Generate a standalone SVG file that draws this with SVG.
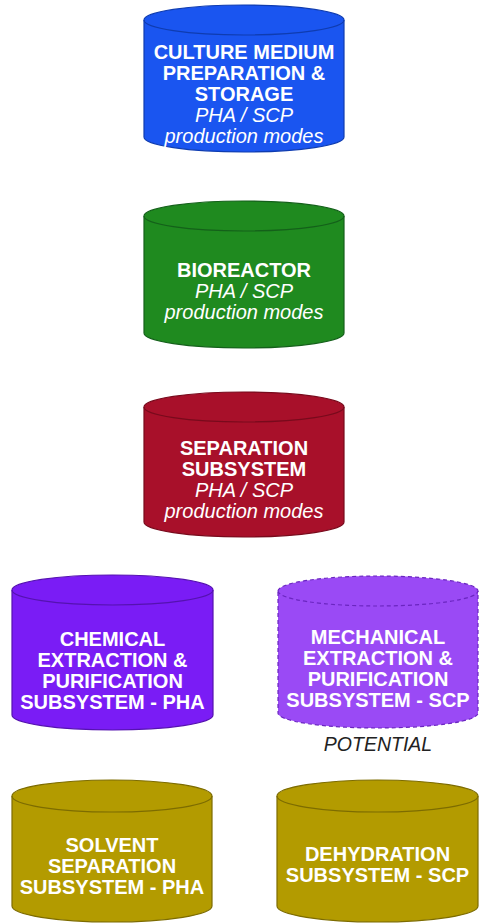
<svg xmlns="http://www.w3.org/2000/svg" width="487" height="923" viewBox="0 0 487 923">
  <style>
    .cyl { stroke-width: 1.2; }
    .rim { fill: none; stroke-width: 1.2; }
    .t { font-family: "Liberation Sans", Arial, sans-serif; font-size: 20px; fill: #ffffff; text-anchor: middle; }
    .b { font-weight: bold; }
    .i { font-style: italic; }
    .note { font-family: "Liberation Sans", Arial, sans-serif; font-size: 19.5px; font-style: italic; fill: #222222; text-anchor: middle; }
    .dash { stroke-dasharray: 4 3; }
  </style>
  <rect width="487" height="923" fill="#ffffff"/>

  <g id="culture-medium">
    <path class="cyl" fill="#1a55f0" stroke="#0f3cb0" d="M144,20 A100,15 0 0 1 344,20 V137 A100,15 0 0 1 144,137 Z"/>
    <path class="rim" stroke="#0f3cb0" d="M144,20 A100,15 0 0 0 344,20"/>
    <text class="t b" x="244" y="59">CULTURE MEDIUM</text>
    <text class="t b" x="244" y="80">PREPARATION &amp;</text>
    <text class="t b" x="244" y="101">STORAGE</text>
    <text class="t i" x="244" y="122">PHA / SCP</text>
    <text class="t i" x="244" y="143">production modes</text>
  </g>

  <g id="bioreactor">
    <path class="cyl" fill="#1f8a1f" stroke="#14601a" d="M144,216 A100,15 0 0 1 344,216 V333 A100,15 0 0 1 144,333 Z"/>
    <path class="rim" stroke="#14601a" d="M144,216 A100,15 0 0 0 344,216"/>
    <text class="t b" x="244" y="277">BIOREACTOR</text>
    <text class="t i" x="244" y="298">PHA / SCP</text>
    <text class="t i" x="244" y="319">production modes</text>
  </g>

  <g id="separation">
    <path class="cyl" fill="#a8102a" stroke="#780a1c" d="M144,407 A100,15 0 0 1 344,407 V522 A100,15 0 0 1 144,522 Z"/>
    <path class="rim" stroke="#780a1c" d="M144,407 A100,15 0 0 0 344,407"/>
    <text class="t b" x="244" y="455">SEPARATION</text>
    <text class="t b" x="244" y="476">SUBSYSTEM</text>
    <text class="t i" x="244" y="497">PHA / SCP</text>
    <text class="t i" x="244" y="518">production modes</text>
  </g>

  <g id="chemical-extraction">
    <path class="cyl" fill="#7a1cf5" stroke="#5512b0" d="M12,590 A100.5,15 0 0 1 213,590 V715 A100.5,15 0 0 1 12,715 Z"/>
    <path class="rim" stroke="#5512b0" d="M12,590 A100.5,15 0 0 0 213,590"/>
    <text class="t b" x="112.5" y="646">CHEMICAL</text>
    <text class="t b" x="112.5" y="667">EXTRACTION &amp;</text>
    <text class="t b" x="112.5" y="688">PURIFICATION</text>
    <text class="t b" x="112.5" y="709">SUBSYSTEM - PHA</text>
  </g>

  <g id="mechanical-extraction">
    <path class="cyl dash" fill="#9a4af5" stroke="#6a25c0" d="M278,591 A100,15 0 0 1 478,591 V713 A100,15 0 0 1 278,713 Z"/>
    <path class="rim dash" stroke="#6a25c0" d="M278,591 A100,15 0 0 0 478,591"/>
    <text class="t b" x="378" y="644">MECHANICAL</text>
    <text class="t b" x="378" y="665">EXTRACTION &amp;</text>
    <text class="t b" x="378" y="686">PURIFICATION</text>
    <text class="t b" x="378" y="707">SUBSYSTEM - SCP</text>
    <text class="note" x="378" y="751">POTENTIAL</text>
  </g>

  <g id="solvent-separation">
    <path class="cyl" fill="#b39b00" stroke="#7d6c00" d="M12,796 A100,16 0 0 1 212,796 V906 A100,16 0 0 1 12,906 Z"/>
    <path class="rim" stroke="#7d6c00" d="M12,796 A100,16 0 0 0 212,796"/>
    <text class="t b" x="112" y="852">SOLVENT</text>
    <text class="t b" x="112" y="873">SEPARATION</text>
    <text class="t b" x="112" y="894">SUBSYSTEM - PHA</text>
  </g>

  <g id="dehydration">
    <path class="cyl" fill="#b39b00" stroke="#7d6c00" d="M277,796 A100.5,16 0 0 1 478,796 V906 A100.5,16 0 0 1 277,906 Z"/>
    <path class="rim" stroke="#7d6c00" d="M277,796 A100.5,16 0 0 0 478,796"/>
    <text class="t b" x="377.5" y="861">DEHYDRATION</text>
    <text class="t b" x="377.5" y="882">SUBSYSTEM - SCP</text>
  </g>

  <g id="connectors"/>
</svg>
